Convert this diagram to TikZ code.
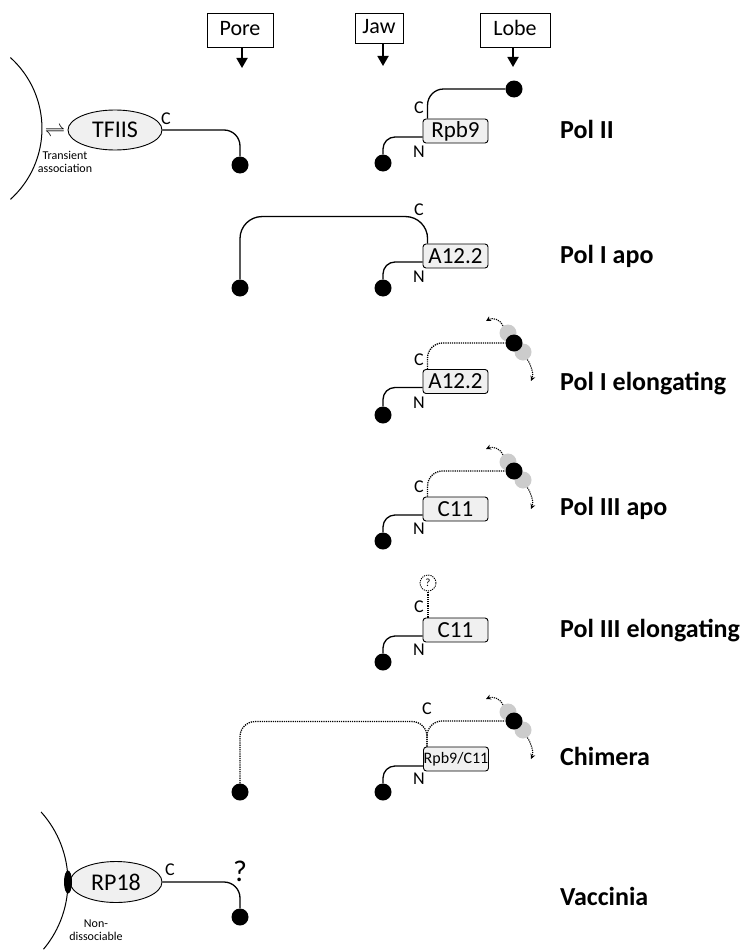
\documentclass[tikz,border=0pt]{standalone}
\usepackage{fontspec}
\setmainfont{Carlito}
\usetikzlibrary{arrows.meta,calc,shapes.geometric}

\begin{document}
\begin{tikzpicture}[x=1pt,y=-1pt,
  topbox/.style={draw,line width=0.8pt,fill=white,inner sep=0pt,minimum height=34pt,text height=15pt,text depth=4pt,font=\fontsize{22}{26}\selectfont},
  prot/.style={draw,line width=0.9pt,rounded corners=3pt,fill=black!6,inner sep=0pt,minimum width=65pt,minimum height=24pt,font=\fontsize{23}{26}\selectfont},
  blob/.style={ellipse,draw,line width=0.9pt,fill=black!6,minimum width=94pt,minimum height=40pt,inner sep=0pt,font=\fontsize{24}{26}\selectfont},
  ball/.style={circle,fill=black,minimum size=17pt,inner sep=0pt},
  ghost/.style={circle,fill=black!20,minimum size=17pt,inner sep=0pt},
  tail/.style={line width=1.3pt},
  dots/.style={line width=1.3pt,dash pattern=on 1.2pt off 1pt},
  ptr/.style={line width=1.8pt,-{Triangle[width=11pt,length=10pt]}},
  swing/.style={line width=1.1pt,dash pattern=on 1.2pt off 1pt,-{Stealth[length=5pt,width=5pt]}},
  term/.style={font=\fontsize{18}{20}\selectfont,inner sep=0pt},
  row/.style={anchor=base west,font=\fontsize{26}{30}\selectfont\bfseries,inner sep=0pt},
  note/.style={align=center,font=\fontsize{12}{13}\selectfont,inner sep=0pt}
]
\useasboundingbox (0,0) rectangle (753,950);

% domain labels with pointers
\node[topbox,minimum width=66pt] (pore) at (240,30) {Pore};
\node[topbox,minimum width=48pt,minimum height=30pt] (jaw) at (379,28) {Jaw};
\node[topbox,minimum width=70pt] (lobe) at (515,30) {Lobe};
\coordinate (porept) at (242,68);
\coordinate (jawpt) at (383,66);
\coordinate (lobept) at (513,67);
\draw[ptr] (pore.south -| porept) -- (porept);
\draw[ptr] (jaw.south -| jawpt) -- (jawpt);
\draw[ptr] (lobe.south -| lobept) -- (lobept);

% ---- Pol II ----
\draw[line width=1pt] (10.4,57.6) arc[start angle=48,end angle=-48,radius=95.4pt];
\node[inner sep=0pt] (eq) at (55,132) {\fontsize{20}{20}\selectfont$\rightleftharpoons$};
\node[note] (transient) at (65,162) {Transient\\association};
\node[blob] (tfiis) at (115,130) {TFIIS};
\node[term] (ct) at (166,119) {C};
\node[ball] (pore2) at (240,165) {};
\draw[tail,rounded corners=16pt] (tfiis.east) -| (pore2);

\node[prot] (rpb9) at (455.5,131) {Rpb9};
\node[ball] (lobe2) at (514,89) {};
\node[ball] (jaw2) at (383,163) {};
\draw[tail,rounded corners=16pt] ([xshift=5pt]rpb9.north west) |- (lobe2);
\draw[tail,rounded corners=12pt] ([yshift=-6pt]rpb9.west) -| (jaw2);
\node[term] (c2) at (419,108) {C};
\node[term] (n2) at (419,152) {N};
\node[row] (r1) at (560,138) {Pol II};

% ---- Pol I apo ----
\node[prot] (a12a) at (455.5,256) {A12.2};
\node[ball] (pore1a) at (240,288) {};
\node[ball] (jaw1a) at (383,288) {};
\draw[tail,rounded corners=22pt] ([xshift=5pt]a12a.north west) -- ++(0,-27) -| (pore1a);
\draw[tail,rounded corners=12pt] ([yshift=-6pt]a12a.west) -| (jaw1a);
\node[term] (c1a) at (419,210) {C};
\node[term] (n1a) at (419,277) {N};
\node[row] (r2) at (560,263) {Pol I apo};

% ---- Pol I elongating ----
\node[prot] (a12e) at (455.5,381.5) {A12.2};
\node[ghost] (g1u) at (508,333) {};
\node[ghost] (g1d) at (523,352) {};
\node[ball] (lobe1e) at (514,343) {};
\node[ball] (jaw1e) at (383,415) {};
\draw[dots,rounded corners=15pt] ([xshift=5pt]a12e.north west) |- (lobe1e);
\draw[tail,rounded corners=12pt] ([yshift=-6pt]a12e.west) -| (jaw1e);
\coordinate (s1u) at ($(g1u)+(-22,-12)$);
\coordinate (s1d) at ($(g1d)+(8,29)$);
\draw[swing] (g1u.125) .. controls ($(g1u)+(-7,-13)$) and ($(g1u)+(-15,-16)$) .. (s1u);
\draw[swing] (g1d.-60) .. controls ($(g1d)+(8,13)$) and ($(g1d)+(11,22)$) .. (s1d);
\node[term] (c1e) at (419,360) {C};
\node[term] (n1e) at (419,403) {N};
\node[row] (r3) at (560,390) {Pol I elongating};

% ---- Pol III apo ----
\node[prot] (c11a) at (455.5,509) {C11};
\node[ghost] (g3u) at (508,462) {};
\node[ghost] (g3d) at (523,480) {};
\node[ball] (lobe3a) at (514,471) {};
\node[ball] (jaw3a) at (383,541) {};
\draw[dots,rounded corners=15pt] ([xshift=5pt]c11a.north west) |- (lobe3a);
\draw[tail,rounded corners=12pt] ([yshift=-6pt]c11a.west) -| (jaw3a);
\coordinate (s3u) at ($(g3u)+(-22,-13)$);
\coordinate (s3d) at ($(g3d)+(8,29)$);
\draw[swing] (g3u.125) .. controls ($(g3u)+(-7,-13)$) and ($(g3u)+(-15,-16)$) .. (s3u);
\draw[swing] (g3d.-60) .. controls ($(g3d)+(8,13)$) and ($(g3d)+(11,22)$) .. (s3d);
\node[term] (c3a) at (419,487) {C};
\node[term] (n3a) at (419,529) {N};
\node[row] (r4) at (560,515) {Pol III apo};

% ---- Pol III elongating ----
\node[prot] (c11e) at (455.5,630) {C11};
\node[draw,circle,dots,line width=0.9pt,minimum size=16pt,inner sep=0pt,font=\fontsize{11}{11}\selectfont] (qm) at (428,583) {?};
\node[ball] (jaw3e) at (383,662) {};
\draw[dots] (qm |- c11e.north) -- (qm);
\draw[tail,rounded corners=12pt] ([yshift=-6pt]c11e.west) -| (jaw3e);
\node[term] (c3e) at (419,607) {C};
\node[term] (n3e) at (419,650) {N};
\node[row] (r5) at (560,637) {Pol III elongating};

% ---- Chimera ----
\node[prot,font=\fontsize{16}{18}\selectfont] (chim) at (456,759) {Rpb9/C11};
\node[ghost] (g4u) at (508,712) {};
\node[ghost] (g4d) at (523,730) {};
\node[ball] (lobe4) at (514,721) {};
\node[ball] (pore4) at (240,792) {};
\node[ball] (jaw4) at (383,792) {};
\draw[dots,rounded corners=15pt] ([xshift=4pt]chim.north west) -- ++(0,-25) -| (pore4);
\draw[dots,rounded corners=15pt] ([xshift=4pt]chim.north west) |- (lobe4);
\draw[tail,rounded corners=12pt] ([yshift=-7pt]chim.west) -| (jaw4);
\coordinate (s4u) at ($(g4u)+(-22,-13)$);
\coordinate (s4d) at ($(g4d)+(8,29)$);
\draw[swing] (g4u.125) .. controls ($(g4u)+(-7,-13)$) and ($(g4u)+(-15,-16)$) .. (s4u);
\draw[swing] (g4d.-60) .. controls ($(g4d)+(8,13)$) and ($(g4d)+(11,22)$) .. (s4d);
\node[term] (c4) at (427,709) {C};
\node[term] (n4) at (419,779) {N};
\node[row] (r6) at (560,765) {Chimera};

% ---- Vaccinia ----
\draw[line width=1pt] (41.1,812) arc[start angle=42,end angle=-40,radius=104.6pt];
\node[blob,minimum width=92pt,minimum height=41pt] (rp18) at (116,882) {RP18};
\node[ellipse,fill=black,minimum width=8pt,minimum height=23pt,inner sep=0pt] (tether) at (68,882) {};
\node[term] (cv) at (170,870) {C};
\node[ball] (pore5) at (240,917) {};
\draw[tail,rounded corners=16pt] (rp18.east) -| (pore5);
\node[inner sep=0pt,font=\fontsize{30}{32}\selectfont] (qv) at (240,871) {?};
\node[note] (nondiss) at (96,930) {Non-\\dissociable};
\node[row] (r7) at (560,905) {Vaccinia};
\end{tikzpicture}
\end{document}
